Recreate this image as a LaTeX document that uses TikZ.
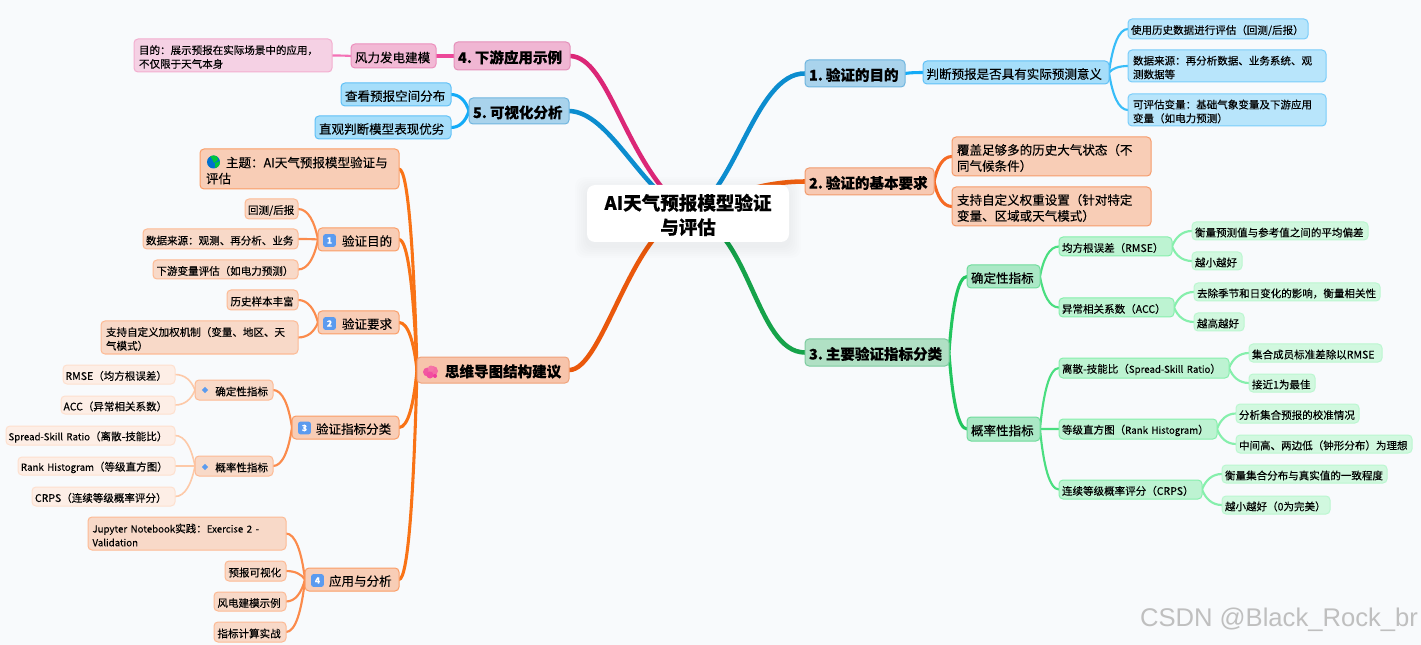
\documentclass[tikz,border=0pt]{standalone}
\usepackage{fontspec}
\setmainfont{Noto Sans CJK SC}[FakeBold=0.15]
\newfontfamily\wmfont{Liberation Sans}
\usetikzlibrary{calc,backgrounds,shapes.geometric}
\definecolor{bgc}{HTML}{F8FAFC}
\definecolor{bB}{HTML}{0C8DCF}\definecolor{bO}{HTML}{EE5F12}\definecolor{bG}{HTML}{16A34A}\definecolor{bP}{HTML}{DB2777}\definecolor{bS}{HTML}{EA580C}
\definecolor{cB}{HTML}{13ABF7}\definecolor{dB}{HTML}{38BDF8}
\definecolor{cO}{HTML}{F56A25}
\definecolor{cG}{HTML}{22C55E}\definecolor{dG}{HTML}{4ADE80}\definecolor{eG}{HTML}{86EFAC}
\definecolor{cP}{HTML}{EC4899}\definecolor{dP}{HTML}{F472B6}
\definecolor{cS}{HTML}{F97316}\definecolor{dS}{HTML}{FB8B4C}\definecolor{eS}{HTML}{FDC9A8}
\definecolor{A1}{HTML}{A9D3EC}\definecolor{A2}{HTML}{6FB5DF}\definecolor{A3}{HTML}{A6DEFA}\definecolor{A4}{HTML}{5FC0F7}\definecolor{A5}{HTML}{B8E5FB}\definecolor{A6}{HTML}{7ACDFA}
\definecolor{B1}{HTML}{F7C9B3}\definecolor{B2}{HTML}{F29B6D}\definecolor{B3}{HTML}{F8CDB6}\definecolor{B4}{HTML}{F69C6B}
\definecolor{C1}{HTML}{B0E0C4}\definecolor{C2}{HTML}{7CCB9E}\definecolor{C3}{HTML}{ABE8C6}\definecolor{C4}{HTML}{6FDC9B}\definecolor{C5}{HTML}{BDF3D2}\definecolor{C6}{HTML}{86EFAC}\definecolor{C7}{HTML}{D1F8DF}\definecolor{C8}{HTML}{BBF7D0}
\definecolor{D1}{HTML}{F0B6D3}\definecolor{D2}{HTML}{E58FB9}\definecolor{D3}{HTML}{F2B9D5}\definecolor{D4}{HTML}{EC8FBD}\definecolor{D5}{HTML}{F5D1E4}\definecolor{D6}{HTML}{F3AECF}
\definecolor{E1}{HTML}{F7C4AB}\definecolor{E2}{HTML}{F0A27A}\definecolor{E3}{HTML}{F8CDB6}\definecolor{E4}{HTML}{FB9D66}\definecolor{E5}{HTML}{F8D9C8}\definecolor{E6}{HTML}{FDBA94}\definecolor{E7}{HTML}{FDEEE6}\definecolor{E8}{HTML}{FEE0CE}
\definecolor{K1}{HTML}{5B9BEF}
\newcommand\fsS{\fontsize{7.9pt}{10.3pt}\selectfont}
\newcommand\fsM{\fontsize{9.4pt}{12pt}\selectfont}
\newcommand\fsL{\fontsize{10.9pt}{14pt}\bfseries\selectfont}
\newcommand\fsX{\fontsize{13.9pt}{18.2pt}\bfseries\selectfont}
\newcommand\lat[1]{{\fontsize{7.25pt}{10.3pt}\selectfont #1}}
\newcommand\numgap{\hspace{2.2pt}}
\tikzset{
 x=0.75pt,y=-0.75pt,
 nb/.style={draw,line width=0.75pt,rounded corners=3pt,inner ysep=0pt,outer sep=0pt,text=black,align=left},
 tB/.style={nb,fill=A1,draw=A2,font=\fsL},
 tO/.style={nb,fill=B1,draw=B2,font=\fsL},
 tG/.style={nb,fill=C1,draw=C2,font=\fsL},
 tP/.style={nb,fill=D1,draw=D2,font=\fsL},
 tS/.style={nb,fill=E1,draw=E2,font=\fsL},
 sB/.style={nb,fill=A3,draw=A4,font=\fsM},
 lB/.style={nb,fill=A5,draw=A6,font=\fsS},
 sO/.style={nb,fill=B3,draw=B4,font=\fsM},
 sG/.style={nb,fill=C3,draw=C4,font=\fsM},
 mG/.style={nb,fill=C5,draw=C6,font=\fsS},
 lG/.style={nb,fill=C7,draw=C8,font=\fsS},
 sP/.style={nb,fill=D3,draw=D4,font=\fsM},
 lP/.style={nb,fill=D5,draw=D6,font=\fsS},
 sS/.style={nb,fill=E3,draw=E4,font=\fsM},
 mS/.style={nb,fill=E5,draw=E6,font=\fsS},
 lS/.style={nb,fill=E7,draw=E8,font=\fsS},
 key/.style={fill=K1,rounded corners=1.5pt,minimum size=9.4pt,inner sep=0pt,outer sep=0pt,text=white,font=\fontsize{6.5pt}{7pt}\bfseries\selectfont},
 dia/.style={fill=K1,shape=diamond,minimum size=5pt,inner sep=0pt},
 l1/.style={line width=3.4pt,line cap=round},
 l2/.style={line width=2.3pt,line cap=round},
 l3/.style={line width=1.6pt,line cap=round},
 l4/.style={line width=1.2pt,line cap=round}
}
\newcommand\nd[8]{%
 \pgfmathsetmacro\tw{(#4-#2-2*#6)*0.75}%
 \pgfmathsetmacro\bw{(#4-#2)*0.75}%
 \pgfmathsetmacro\bh{(#5-#3)*0.75}%
 \pgfmathsetmacro\ix{#6*0.75}%
 \node[#7,text width=\tw pt,inner xsep=\ix pt,minimum width=\bw pt,minimum height=\bh pt] (#1) at ({(#2+#4)/2},{(#3+#5)/2}) {\rule{0pt}{\dimexpr 0.88em+2pt\relax}#8};}
% sweep from the side of a parent to the side of a child
\newcommand\cv[3]{%
 \draw[#3] (#1) .. controls ($(#1)!0.6!($(#1 |- #2)!0.3!(#2)$)$) and ($(#1 |- #2)!0.5!(#2)$) .. (#2);}
\begin{document}
\begin{tikzpicture}
\path[use as bounding box] (0,0) rectangle (1421,645);
% central and top-level
\nd{c}{587}{185}{789}{242}{6}{nb,draw=none,fill=white,rounded corners=6pt,font=\fsX,align=center}{AI天气预报模型验证\\与评估}
\nd{n1}{805}{60}{905}{87}{4}{tB}{\mbox{1.\numgap 验证的目的}}
\nd{n2}{805}{168}{934}{195}{4}{tO}{\mbox{2.\numgap 验证的基本要求}}
\nd{n3}{805}{339}{949}{366}{4}{tG}{\mbox{3.\numgap 主要验证指标分类}}
\nd{n4}{454}{42}{570}{70}{4}{tP}{\mbox{4.\numgap 下游应用示例}}
\nd{n5}{469}{98}{569}{124}{4}{tB}{\mbox{5.\numgap 可视化分析}}
\nd{n6}{417}{357}{569}{383}{4}{tS}{\hspace*{18pt}思维导图结构建议}
% right: 1
\nd{a0}{923}{61}{1109}{84}{3.5}{sB}{判断预报是否具有实际预测意义}
\nd{a1}{1128}{19}{1308}{39}{3}{lB}{使用历史数据进行评估（回测/后报）}
\nd{a2}{1128}{50}{1326}{82}{5}{lB}{数据来源：再分析数据、业务系统、观\\测数据等}
\nd{a3}{1128}{94}{1326}{126}{5}{lB}{可评估变量：基础气象变量及下游应用\\变量（如电力预测）}
% right: 2
\nd{b1}{952}{137}{1151}{176}{5}{sO}{覆盖足够多的历史大气状态（不\\同气候条件）}
\nd{b2}{952}{187}{1151}{226}{5}{sO}{支持自定义权重设置（针对特定\\变量、区域或天气模式）}
% right: 3
\nd{g1}{967}{265}{1040}{288}{4}{sG}{确定性指标}
\nd{g2}{967}{417}{1040}{441}{4}{sG}{概率性指标}
\nd{h1}{1059}{237}{1172}{256}{3}{mG}{均方根误差（RMSE）}
\nd{h2}{1059}{298}{1174}{317}{3}{mG}{异常相关系数（ACC）}
\nd{h3}{1059}{358}{1229}{378}{3}{mG}{\mbox{离散-技能比（\lat{Spread-Skill Ratio}）}}
\nd{h4}{1059}{419}{1217}{439}{3}{mG}{\mbox{等级直方图（\lat{Rank Histogram}）}}
\nd{h5}{1059}{480}{1202}{499}{3}{mG}{连续等级概率评分（CRPS）}
\nd{i1}{1192}{222}{1368}{240}{3}{lG}{衡量预测值与参考值之间的平均偏差}
\nd{i2}{1192}{252}{1242}{270}{3}{lG}{越小越好}
\nd{i3}{1194}{283}{1380}{301}{3}{lG}{去除季节和日变化的影响，衡量相关性}
\nd{i4}{1194}{313}{1244}{331}{3}{lG}{越高越好}
\nd{i5}{1249}{344}{1382}{362}{3}{lG}{集合成员标准差除以RMSE}
\nd{i6}{1249}{374}{1315}{392}{3}{lG}{接近1为最佳}
\nd{i7}{1236}{404}{1359}{423}{3}{lG}{分析集合预报的校准情况}
\nd{i8}{1236}{435}{1412}{453}{3}{lG}{中间高、两边低（钟形分布）为理想}
\nd{i9}{1222}{465}{1387}{483}{3}{lG}{衡量集合分布与真实值的一致程度}
\nd{i10}{1222}{496}{1330}{514}{3}{lG}{越小越好（0为完美）}
% left: 4, 5
\nd{p1}{351}{44}{436}{68}{4}{sP}{风力发电建模}
\nd{p2}{134}{39}{332}{72}{5}{lP}{目的：展示预报在实际场景中的应用，\\不仅限于天气本身}
\nd{q1}{341}{83}{451}{106}{4}{sB}{查看预报空间分布}
\nd{q2}{315}{116}{451}{139}{4}{sB}{直观判断模型表现优劣}
% left: structure
\nd{s0}{200}{149}{399}{189}{6}{sS}{\hspace*{15pt}主题：AI天气预报模型验证与\\评估}
\nd{s1}{318}{228}{399}{251}{4}{sS}{\hspace*{15pt}验证目的}
\nd{s2}{318}{311}{399}{334}{4}{sS}{\hspace*{15pt}验证要求}
\nd{s3}{292}{416}{399}{439}{4}{sS}{\hspace*{15pt}验证指标分类}
\nd{s4}{305}{568}{399}{591}{4}{sS}{\hspace*{15pt}应用与分析}
\nd{t1}{245}{199}{298}{219}{3}{mS}{回测/后报}
\nd{t2}{143}{229}{298}{249}{3}{mS}{数据来源：观测、再分析、业务}
\nd{t3}{153}{260}{298}{279}{3.5}{mS}{下游变量评估（如电力预测）}
\nd{t4}{227}{290}{298}{310}{3.5}{mS}{历史样本丰富}
\nd{t5}{101}{321}{298}{354}{5}{mS}{支持自定义加权机制（变量、地区、天\\气模式）}
\nd{t6}{195}{380}{273}{400}{3}{mS}{\hspace*{13pt}确定性指标}
\nd{t7}{195}{456}{273}{476}{3}{mS}{\hspace*{13pt}概率性指标}
\nd{t8}{88}{517}{286}{550}{4.5}{mS}{\mbox{\lat{Jupyter Notebook}实践：\lat{Exercise 2 -}}\\\lat{Validation}}
\nd{t9}{225}{561}{286}{581}{3.5}{mS}{预报可视化}
\nd{t10}{214}{592}{286}{611}{3.5}{mS}{风电建模示例}
\nd{t11}{214}{622}{286}{642}{3.5}{mS}{指标计算实战}
\nd{u1}{63}{365}{175}{384}{2.5}{lS}{RMSE（均方根误差）}
\nd{u2}{61}{396}{175}{414}{2.5}{lS}{ACC（异常相关系数）}
\nd{u3}{6}{426}{175}{445}{2.5}{lS}{\mbox{\lat{Spread-Skill Ratio}（离散-技能比）}}
\nd{u4}{18}{457}{175}{475}{3}{lS}{\mbox{\lat{Rank Histogram}（等级直方图）}}
\nd{u5}{32}{487}{175}{506}{3}{lS}{CRPS（连续等级概率评分）}
% icons
\node[key] (k1) at (329.5,240.5) {1};
\node[key] (k2) at (329.5,323.5) {2};
\node[key] (k3) at (304.5,428) {3};
\node[key] (k4) at (317.5,580.5) {4};
\node[dia] (d1) at (205,390) {};
\node[dia] (d2) at (205,467) {};
\begin{scope}
\clip (213.5,162) circle (6.5);
\fill[blue!45!cyan!80!black] (207,155) rectangle (220,169);
\fill[green!55!teal] (210,156) -- (217,155) -- (218,160) -- (214,163) -- (212,159) -- cycle;
\fill[green!55!teal] (215,163) -- (220,161) -- (219,167) -- (215,168) -- cycle;
\end{scope}
\begin{scope}
\fill[magenta!55!pink] (427.5,372) circle (4.5);
\fill[magenta!45!pink] (433,371) circle (5);
\fill[magenta!60!pink] (430,375) circle (3.5);
\fill[magenta!40!pink] (431,368.5) circle (3);
\fill[magenta!70!pink] (435,376) circle (2);
\end{scope}
\node[text=black!25,font=\wmfont\fontsize{19.2pt}{22pt}\selectfont,inner sep=0pt] (wm) at (1279,620) {CSDN @Black\_Rock\_br};
% connectors
\begin{pgfonlayer}{background}
\fill[bgc] (0,0) rectangle (1421,645);
\draw[bB,l1] (c.center) .. controls +(47,-18) and +(-50,-1) .. (n1.west);
\draw[bO,l1] (c.center) .. controls +(40,-20) and +(-40,0) .. (n2.west);
\draw[bG,l1] (c.center) .. controls +(62,11) and +(-50,0) .. (n3.west);
\draw[bP,l1] (c.center) .. controls +(-63,-48) and +(40,1) .. (n4.east);
\draw[bB,l1] (c.center) .. controls +(-48,-23) and +(41,1) .. (n5.east);
\draw[bS,l1] (c.center) .. controls +(-56,12) and +(34,1) .. (n6.east);
\cv{n1.east}{a0.west}{cB,l2}
\foreach \y in {a1,a2,a3}{\cv{a0.east}{\y.west}{dB,l3}}
\foreach \y in {b1,b2}{\cv{n2.east}{\y.west}{cO,l2}}
\foreach \y in {g1,g2}{\cv{n3.east}{\y.west}{cG,l2}}
\foreach \y in {h1,h2}{\cv{g1.east}{\y.west}{dG,l3}}
\foreach \y in {h3,h4,h5}{\cv{g2.east}{\y.west}{dG,l3}}
\foreach \y in {i1,i2}{\cv{h1.east}{\y.west}{eG,l3}}
\foreach \y in {i3,i4}{\cv{h2.east}{\y.west}{eG,l3}}
\foreach \y in {i5,i6}{\cv{h3.east}{\y.west}{eG,l3}}
\foreach \y in {i7,i8}{\cv{h4.east}{\y.west}{eG,l3}}
\foreach \y in {i9,i10}{\cv{h5.east}{\y.west}{eG,l3}}
\cv{n4.west}{p1.east}{cP,l2}
\cv{p1.west}{p2.east}{dP,l3}
\foreach \y in {q1,q2}{\cv{n5.west}{\y.east}{cB,l2}}
\foreach \y in {s0,s1,s2,s3,s4}{\cv{n6.west}{\y.east}{cS,l2}}
\foreach \y in {t1,t2,t3}{\cv{s1.west}{\y.east}{dS,l3}}
\foreach \y in {t4,t5}{\cv{s2.west}{\y.east}{dS,l3}}
\foreach \y in {t6,t7}{\cv{s3.west}{\y.east}{dS,l3}}
\foreach \y in {t8,t9,t10,t11}{\cv{s4.west}{\y.east}{dS,l3}}
\foreach \y in {u1,u2}{\cv{t6.west}{\y.east}{eS,l4}}
\foreach \y in {u3,u4,u5}{\cv{t7.west}{\y.east}{eS,l4}}
\foreach \s in {2,4,6,8,10,12}{
 \fill[black,opacity=0.008,rounded corners=7pt] ([shift={(-\s,-\s+4)}]c.north west) rectangle ([shift={(\s,\s+4)}]c.south east);}
\end{pgfonlayer}
\end{tikzpicture}
\end{document}
